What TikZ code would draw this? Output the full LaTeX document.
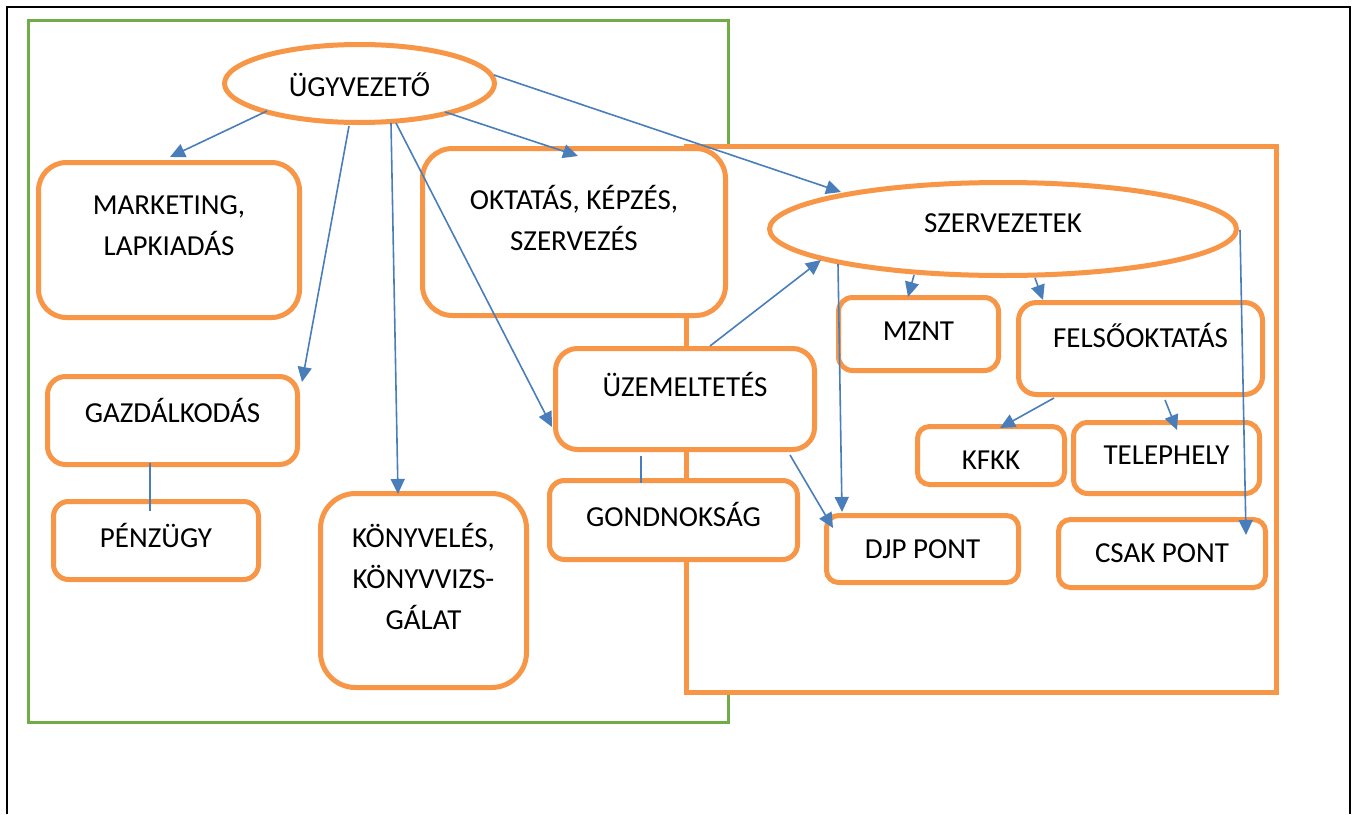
\documentclass[tikz,border=0pt]{standalone}
\usepackage{fontspec}
\setmainfont{Carlito}
\usetikzlibrary{arrows.meta,shapes.geometric,calc}
\definecolor{org}{HTML}{F79646}
\definecolor{grn}{HTML}{70AD47}
\definecolor{blu}{HTML}{4A7EBB}
\begin{document}
\begin{tikzpicture}[x=1pt,y=-1pt,
  obox/.style={draw=org, line width=5pt, fill=white, rounded corners=#1, inner sep=0pt},
  obox/.default=15pt,
  oell/.style={draw=org, line width=5pt, fill=white, ellipse, inner sep=0pt},
  lbl/.style={font=\fontsize{29}{41}\selectfont, align=center, inner sep=0pt},
  conn/.style={draw=blu, line width=1.6pt},
  arr/.style={conn, -{Triangle[length=15pt,width=14pt]}},
]
\useasboundingbox (0,0) rectangle (1357,814);
% frames
\draw[black, line width=2pt] (7,814) -- (7,7) -- (1350,7) -- (1350,814);
\draw[grn, line width=3pt] (28,20) rectangle (728,722);
\draw[org, line width=5pt, fill=white] (686,146) rectangle (1276,692);

% boxes
\node[oell, minimum width=270pt, minimum height=78pt] (ugy) at (359.5,83.5) {};
\node[lbl] (ugyt) at (359.5,85) {ÜGYVEZETŐ};

\node[obox=28pt, minimum width=261pt, minimum height=155pt] (mark) at (169,240) {};
\node[lbl] (markt) at (169,226) {MARKETING,\\LAPKIADÁS};

\node[obox=18pt, minimum width=250pt, minimum height=88pt] (gazd) at (172.5,420.5) {};
\node[lbl] (gazdt) at (172.5,410) {GAZDÁLKODÁS};

\node[obox=15pt, minimum width=205pt, minimum height=78pt] (penz) at (156,540.5) {};
\node[lbl] (penzt) at (156,535) {PÉNZÜGY};

\node[obox=35pt, minimum width=206pt, minimum height=194pt] (konyv) at (423.5,590.5) {};
\node[lbl] (konyvt) at (423.5,576) {KÖNYVELÉS,\\KÖNYVVIZS-\\GÁLAT};

\node[obox=30pt, minimum width=303pt, minimum height=167pt] (okt) at (574,232) {};
\node[lbl] (oktt) at (574,218) {OKTATÁS, KÉPZÉS,\\SZERVEZÉS};

\node[obox=22pt, minimum width=259pt, minimum height=101pt] (uzem) at (685,399) {};
\node[lbl] (uzemt) at (685,384) {ÜZEMELTETÉS};

\node[obox=15pt, minimum width=248pt, minimum height=79pt] (gond) at (673.5,520) {};
\node[lbl] (gondt) at (673.5,514) {GONDNOKSÁG};

\node[oell, minimum width=467pt, minimum height=93pt] (szerv) at (1003,229) {};
\node[lbl] (szervt) at (1003,223) {SZERVEZETEK};

\node[obox=14pt, minimum width=160pt, minimum height=73pt] (mznt) at (918.5,334) {};
\node[lbl] (mzntt) at (918.5,331) {MZNT};

\node[obox=18pt, minimum width=244pt, minimum height=92pt] (fels) at (1140.5,348.5) {};
\node[lbl] (felst) at (1140.5,335) {FELSŐOKTATÁS};

\node[obox=12pt, minimum width=147pt, minimum height=58pt] (kfkk) at (991,455.5) {};
\node[lbl] (kfkkt) at (991,460) {KFKK};

\node[obox=14pt, minimum width=186pt, minimum height=71pt] (tele) at (1166.5,458) {};
\node[lbl] (telet) at (1166.5,455) {TELEPHELY};

\node[obox=12pt, minimum width=192pt, minimum height=67pt] (djp) at (922.5,549) {};
\node[lbl] (djpt) at (922.5,549) {DJP PONT};

\node[obox=12pt, minimum width=207pt, minimum height=68pt] (csak) at (1162,553.5) {};
\node[lbl] (csakt) at (1162,553) {CSAK PONT};

% connectors
\draw[arr] ($(ugy.center)+(-92.5,27.5)$) -- ($(mark.center)+(1,-83)$);
\draw[arr] ($(ugy.center)+(-10.5,42.5)$) -- ($(gazd.center)+(129.5,-38.5)$);
\draw[arr] ($(ugy.center)+(31.5,39.5)$) -- ($(konyv.center)+(-25.5,-96.5)$);
\draw[arr] ($(ugy.center)+(36.5,39.5)$) -- ($(uzem.center)+(-133,28)$);
\draw[arr] ($(ugy.center)+(85.5,28.5)$) -- ($(okt.center)+(4,-76)$);
\draw[arr] ($(ugy.center)+(134.5,-8.5)$) -- ($(szerv.center)+(-162,-37)$);
\draw[arr] ($(uzem.center)+(25,-53)$) -- ($(szerv.center)+(-182,31)$);
\draw[arr] ($(szerv.center)+(-165,35)$) -- ($(djp.center)+(-80.5,-37)$);
\draw[arr] ($(szerv.center)+(-89,46)$) -- ($(mznt.center)+(-10.5,-37)$);
\draw[arr] ($(szerv.center)+(32,49)$) -- ($(fels.center)+(-97.5,-48.5)$);
\draw[arr] ($(szerv.center)+(237,1)$) -- ($(csak.center)+(84,-18.5)$);
\draw[arr] ($(fels.center)+(-86.5,49.5)$) -- ($(kfkk.center)+(9,-27.5)$);
\draw[arr] ($(fels.center)+(24.5,51.5)$) -- ($(tele.center)+(10.5,-28)$);
\draw[arr] ($(uzem.center)+(105,56)$) -- ($(djp.center)+(-89.5,-21)$);
\draw[conn] ($(gazd.center)+(-22.5,42.5)$) -- ($(penz.center)+(-6,-29.5)$);
\draw[conn] ($(uzem.center)+(-44,57)$) -- ($(gond.center)+(-32.5,-37)$);
\end{tikzpicture}
\end{document}
